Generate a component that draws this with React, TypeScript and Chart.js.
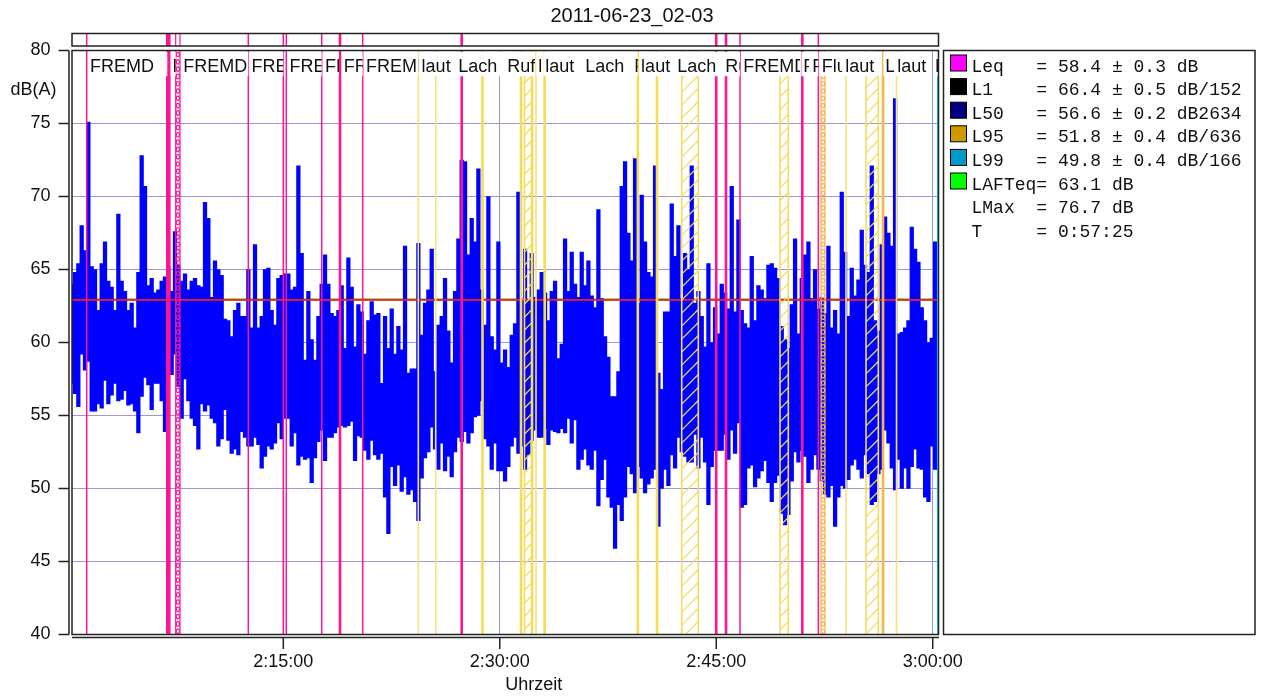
import React, { useEffect, useRef } from "react";
import { Chart, registerables } from "chart.js";

Chart.register(...registerables);

// ---------- texts ----------
const TITLE = "2011-06-23_02-03";
const Y_LABEL = "dB(A)";
const X_LABEL = "Uhrzeit";

// ---------- time axis (seconds after 2:00:00) ----------
const X_MIN = 21.5;
const X_MAX = 3624;
const SAMPLE_START = 13.2;
const SAMPLE_STEP = 13.86;

const xTickValues = [900, 1800, 2700, 3600];
const xTickLabels = ["2:15:00", "2:30:00", "2:45:00", "3:00:00"];
const Y_MIN = 40;
const Y_MAX = 80;
const Y_STEP = 5;

// ---------- level samples: max / min per interval, dB(A) ----------
const levelHigh = [
  64.0, 64.8, 65.4, 68.0, 66.3, 75.1, 65.2, 65.0, 62.2, 65.4,
  66.9, 64.2, 63.8, 62.2, 68.8, 64.2, 63.5, 62.2, 62.7, 61.0,
  64.8, 72.8, 70.7, 63.9, 64.4, 63.4, 63.6, 64.2, 64.5, 65.2,
  63.5, 67.6, 65.3, 64.2, 64.7, 63.6, 64.2, 64.4, 63.9, 63.8,
  69.6, 68.5, 63.1, 65.6, 65.0, 64.6, 61.6, 61.5, 60.4, 62.2,
  62.7, 61.8, 61.8, 65.0, 61.0, 66.7, 61.0, 61.8, 65.0, 65.1,
  62.2, 61.2, 64.4, 64.6, 64.7, 64.7,
  63.6, 63.8, 72.1, 66.1, 58.8, 63.5, 60.2, 58.8,
  61.8, 64.0, 66.0, 64.0, 62.0, 61.8, 62.2, 63.9, 59.6, 65.8,
  63.8, 59.7, 62.6, 62.1, 59.2, 61.5, 62.8, 61.9, 62.0, 57.2,
  61.8, 59.6, 62.3, 59.2, 61.1, 59.5, 66.6, 57.9, 58.2, 58.2,
  66.8, 60.5, 62.7, 63.6, 66.4, 58.0, 61.2, 61.8, 64.4, 60.8,
  58.6, 63.5, 67.1, 72.5, 72.4, 66.0, 68.5, 66.9, 71.9, 63.6,
  61.2, 70.0, 60.4, 59.5, 66.9, 58.6,
  59.5, 58.3, 60.5, 61.3, 70.3, 62.9, 66.4, 62.9, 66.1,
  63.1, 63.6, 64.8, 63.4, 61.5, 63.5, 64.2, 58.9, 59.9, 67.1,
  63.5, 66.2, 64.0, 63.1, 66.2, 63.9, 65.6, 63.2, 62.4, 69.1,
  63.0, 60.4, 59.0, 56.3, 56.3, 58.0, 70.7, 72.4, 67.5, 65.6,
  72.6, 62.7, 70.1, 66.9, 64.8, 64.5, 72.1, 57.9, 56.8, 62.1,
  62.1, 69.5, 65.9, 68.0, 63.0, 66.1, 65.0, 72.1, 62.7, 63.5,
  61.8, 59.7, 65.4, 60.0, 62.4, 60.6,
  64.0, 63.4, 62.3, 70.7, 62.1, 68.4, 62.2, 61.3,
  61.0, 65.9, 61.5, 63.9, 63.6, 63.0, 65.3, 65.4, 65.1, 64.4,
  61.1, 60.2, 59.6, 62.6, 67.1, 60.6, 64.4, 66.0, 66.9, 63.0,
  65.0, 62.3, 63.1, 62.0, 66.6, 61.0, 62.2, 60.6, 70.3, 66.2,
  61.8, 65.1, 63.2, 64.3, 67.7, 65.3, 64.8, 72.1, 61.5, 60.8,
  66.7, 68.6, 67.5, 66.6, 76.7, 60.6, 60.7, 61.0, 61.5, 67.9,
  66.4, 65.5, 62.4, 61.5, 60.0, 60.3, 66.9, 62.2,
];

const levelLow = [
  57.2, 56.5, 55.6, 59.2, 58.1, 58.7, 55.3, 55.3, 55.8, 55.5,
  57.4, 55.8, 56.4, 57.2, 56.0, 56.1, 56.7, 55.7, 55.8, 55.3,
  53.8, 56.3, 57.6, 57.1, 55.4, 57.2, 57.2, 56.0, 53.9, 58.1,
  57.8, 59.2, 57.0, 54.8, 57.5, 56.0, 54.8, 54.3, 52.7, 55.8,
  55.3, 55.7, 54.8, 54.5, 52.9, 53.4, 55.4, 53.3, 52.4, 52.7,
  52.3, 53.9, 53.5, 52.9, 52.9, 53.5, 53.0, 51.4, 52.2, 52.9,
  52.7, 53.1, 54.5, 53.4, 54.8, 54.8,
  52.9, 53.8, 51.6, 52.2, 52.0, 52.1, 50.4, 52.1,
  53.2, 54.0, 51.9, 53.5, 53.5, 53.8, 54.2, 54.3, 54.2, 54.3,
  54.6, 51.9, 53.6, 53.5, 52.6, 52.0, 53.3, 52.3, 52.0, 52.4,
  49.4, 46.9, 51.5, 50.2, 51.6, 49.8, 50.8, 49.6, 49.9, 49.1,
  47.8, 50.7, 52.1, 52.5, 54.2, 52.7, 51.3, 53.1, 51.2, 52.2,
  50.8, 52.5, 53.5, 53.2, 53.9, 53.1, 53.8, 54.9, 55.0, 56.0,
  53.4, 52.9, 51.3, 53.1, 51.2, 51.2,
  50.5, 51.5, 52.9, 53.5, 52.4, 52.9, 51.3, 52.3, 53.3,
  54.0, 53.5, 53.5, 54.1, 53.0, 54.0, 53.9, 53.8, 54.1, 53.8,
  54.8, 53.1, 54.7, 51.3, 52.0, 52.7, 51.6, 51.3, 52.6, 48.8,
  50.6, 52.0, 49.4, 48.7, 45.9, 48.9, 47.8, 49.4, 51.5, 51.0,
  49.7, 51.5, 50.7, 49.7, 50.3, 50.7, 51.3, 47.4, 50.0, 51.3,
  50.2, 52.3, 51.4, 53.5, 52.5, 52.2, 51.8, 51.8, 53.7, 51.4,
  53.5, 51.8, 48.9, 51.5, 52.6, 52.6,
  52.6, 53.7, 52.0, 54.0, 52.4, 54.5, 48.7, 48.9,
  51.4, 51.6, 50.1, 50.7, 51.2, 51.9, 50.4, 49.1, 50.4, 50.9,
  48.3, 47.5, 48.2, 50.5, 52.5, 51.8, 52.6, 52.2, 50.4, 51.3,
  52.3, 51.3, 50.5, 49.6, 49.4, 50.2, 47.4, 49.4, 50.2, 50.0,
  50.6, 51.6, 52.0, 51.3, 50.7, 52.3, 51.0, 48.9, 49.1, 51.0,
  51.3, 54.0, 53.1, 51.4, 49.9, 52.0, 50.0, 51.4, 50.0, 51.5,
  52.7, 51.4, 51.3, 49.4, 49.1, 52.9, 51.3, 51.3,
];

// reference levels (horizontal lines)
const leqLineLevel = 62.95;
const lafteqLineLevel = 62.95;

// ---------- event markers (seconds after 2:00:00) ----------
const markerTimes = [
  82.6, 754.5, 900, 912.5, 1059.7, 1230.1, 2798.8, 3124.4,
  417.7, 426, 1135.7, 1641.7, 2699.9, 2740.6, 3057.8,
  1461.3, 1533.6, 1950.7, 3239.5, 3449.5,
  1728.2, 1888.3, 1934, 1986.8, 2373.9, 2453.7,
  3393.4,
  3622,
];
const markerKinds = [
  "m", "m", "m", "m", "m", "m", "m", "m",
  "M", "M", "M", "M", "M", "M", "M",
  "y", "y", "y", "y", "y",
  "Y", "Y", "Y", "Y", "Y", "Y",
  "O",
  "c",
];

const hatchStarts = [1902.8, 2556.4, 2965.1, 3322.7];
const hatchEnds = [1934, 2625.4, 2999.6, 3373.8];

const chainStarts = [452.6, 3135.6];
const chainEnds = [470.5, 3152.2];
const chainKinds = ["m", "O"];

// event labels: start / end of label field, text
const labelStarts = [
  82.6, 426, 470.5, 754.5, 912.5, 1059.7, 1137.8, 1230.1, 1461.3, 1613.9,
  1817.6, 1946.5, 1975.6, 2141.9, 2345.6, 2373.9, 2524.4, 2724, 2798.8, 3048.3,
  3085.6, 3124.4, 3222.9, 3389.2, 3439.1, 3597.1,
];
const labelEnds = [
  417.7, 452.6, 754.5, 900, 1059.7, 1131.6, 1230.1, 1461.3, 1613.9, 1817.6,
  1946.5, 1975.6, 2141.9, 2345.6, 2373.9, 2524.4, 2724, 2798.8, 3048.3, 3085.6,
  3124.4, 3222.9, 3389.2, 3439.1, 3597.1, 3624,
];
const labelTexts = [
  "FREMD", "FREMD", "FREMD", "FREMD", "FREMD", "FREMD", "FREMD", "FREMD", "laut", "Lach",
  "Ruf", "laut", "laut", "Lach", "FREMD", "laut", "Lach", "Ruf", "FREMD", "FREMD",
  "FREMD", "Flur", "laut", "Lach", "laut", "laut",
];

// ---------- legend ----------
const legendColors = ["#ff00ff", "#000000", "#000080", "#cc9900", "#0099cc", "#00ff00", "", ""];
const legendLines = [
  "Leq   = 58.4 \u00b1 0.3 dB",
  "L1    = 66.4 \u00b1 0.5 dB/152",
  "L50   = 56.6 \u00b1 0.2 dB2634",
  "L95   = 51.8 \u00b1 0.4 dB/636",
  "L99   = 49.8 \u00b1 0.4 dB/166",
  "LAFTeq= 63.1 dB",
  "LMax  = 76.7 dB",
  "T     = 0:57:25",
];

// ---------- styles ----------
const SANS = '"Liberation Sans", Arial, sans-serif';
const MONO = '"Liberation Mono", "DejaVu Sans Mono", monospace';
const GRID = "#9b96d4";
const AXIS = "#222222";
const KIND_STYLE: Record<string, { color: string; width: number; strip: boolean }> = {
  m: { color: "#ff1493", width: 1.5, strip: true },
  M: { color: "#ff1493", width: 2.6, strip: true },
  y: { color: "#f6e27a", width: 1.6, strip: false },
  Y: { color: "#f4dc55", width: 2.6, strip: false },
  O: { color: "#f6b44c", width: 2.6, strip: false },
  c: { color: "#00e5ff", width: 2, strip: false },
};
const HATCH_COLOR = "#f4dc60";
const STRIP_TOP = 33.5;
const STRIP_BOTTOM = 46;
const LABEL_TOP = 51.5;
const LABEL_BOTTOM = 76.5;

function vline(ctx: CanvasRenderingContext2D, x: number, y0: number, y1: number) {
  ctx.beginPath();
  ctx.moveTo(x, y0);
  ctx.lineTo(x, y1);
  ctx.stroke();
}
function hline(ctx: CanvasRenderingContext2D, x0: number, x1: number, y: number) {
  ctx.beginPath();
  ctx.moveTo(x0, y);
  ctx.lineTo(x1, y);
  ctx.stroke();
}

const overlayPlugin = {
  id: "overlay",
  beforeDatasetsDraw(chart: any) {
    const { ctx, chartArea: a, scales } = chart;
    const yg = scales.y.getPixelForValue(lafteqLineLevel);
    ctx.save();
    ctx.strokeStyle = "#00d000";
    ctx.lineWidth = 2;
    hline(ctx, a.left, a.right, yg);
    ctx.restore();
  },
  afterDatasetsDraw(chart: any) {
    const { ctx, chartArea: a, scales } = chart;
    const xs = scales.x;
    const ys = scales.y;
    const px = (t: number) => xs.getPixelForValue(t);

    ctx.save();
    ctx.beginPath();
    ctx.rect(a.left, a.top, a.right - a.left, a.bottom - a.top);
    ctx.clip();

    // red Leq line over the data
    ctx.strokeStyle = "#ff1a1a";
    ctx.lineWidth = 1.8;
    hline(ctx, a.left, a.right, ys.getPixelForValue(leqLineLevel) + 0.4);

    // hatched spans
    hatchStarts.forEach((t0, i) => {
      const x0 = px(t0);
      const x1 = px(hatchEnds[i]);
      const w = x1 - x0;
      ctx.save();
      ctx.beginPath();
      ctx.rect(x0, a.top, w, a.bottom - a.top);
      ctx.clip();
      ctx.strokeStyle = HATCH_COLOR;
      ctx.lineWidth = 1.2;
      for (let yy = a.bottom + w; yy > a.top - 13; yy -= 13) {
        ctx.beginPath();
        ctx.moveTo(x0, yy);
        ctx.lineTo(x1, yy - w);
        ctx.stroke();
      }
      ctx.restore();
      ctx.strokeStyle = HATCH_COLOR;
      ctx.lineWidth = 1.6;
      vline(ctx, x0, a.top, a.bottom);
      vline(ctx, x1, a.top, a.bottom);
    });

    // single markers
    markerTimes.forEach((t, i) => {
      const st = KIND_STYLE[markerKinds[i]];
      ctx.strokeStyle = st.color;
      ctx.lineWidth = st.width;
      vline(ctx, px(t), a.top, a.bottom);
    });

    // chain spans
    chainStarts.forEach((t0, i) => {
      const st = KIND_STYLE[chainKinds[i]];
      const x0 = px(t0);
      const x1 = px(chainEnds[i]);
      ctx.strokeStyle = st.color;
      ctx.lineWidth = 1.2;
      vline(ctx, x0, a.top, a.bottom);
      vline(ctx, x1, a.top, a.bottom);
      const cx = (x0 + x1) / 2;
      for (let yy = a.top + 4; yy < a.bottom; yy += 7.3) {
        ctx.beginPath();
        ctx.ellipse(cx, yy, 1.6, 2.2, 0, 0, Math.PI * 2);
        ctx.stroke();
      }
    });

    // label row
    ctx.font = `18px ${SANS}`;
    ctx.textAlign = "left";
    ctx.textBaseline = "alphabetic";
    labelStarts.forEach((t0, i) => {
      const x0 = px(t0);
      const x1 = Math.min(px(labelEnds[i]), a.right);
      ctx.save();
      ctx.beginPath();
      ctx.rect(x0 + 1.2, LABEL_TOP, x1 - x0 - 1.2, LABEL_BOTTOM - LABEL_TOP);
      ctx.clip();
      ctx.fillStyle = "#ffffff";
      ctx.fillRect(x0 + 1.2, LABEL_TOP, x1 - x0, LABEL_BOTTOM - LABEL_TOP);
      ctx.fillStyle = "#111111";
      ctx.fillText(labelTexts[i], x0 + 3.3, 72);
      ctx.restore();
    });
    ctx.restore();

    // top strip
    ctx.save();
    ctx.beginPath();
    ctx.rect(a.left, STRIP_TOP, a.right - a.left, STRIP_BOTTOM - STRIP_TOP);
    ctx.clip();
    markerTimes.forEach((t, i) => {
      const st = KIND_STYLE[markerKinds[i]];
      if (!st.strip) return;
      ctx.strokeStyle = st.color;
      ctx.lineWidth = st.width;
      vline(ctx, px(t), STRIP_TOP, STRIP_BOTTOM);
    });
    chainStarts.forEach((t0, i) => {
      const st = KIND_STYLE[chainKinds[i]];
      if (!st.strip) return;
      ctx.strokeStyle = st.color;
      ctx.lineWidth = 1.2;
      vline(ctx, px(t0), STRIP_TOP, STRIP_BOTTOM);
      vline(ctx, px(chainEnds[i]), STRIP_TOP, STRIP_BOTTOM);
    });
    ctx.restore();

    ctx.save();
    ctx.strokeStyle = AXIS;
    ctx.lineWidth = 1.5;
    ctx.strokeRect(a.left, STRIP_TOP, a.right - a.left, STRIP_BOTTOM - STRIP_TOP);
    // plot frame
    ctx.strokeRect(a.left, a.top, a.right - a.left, a.bottom - a.top);
    // detached axis lines
    vline(ctx, a.left - 3, a.top, a.bottom);
    hline(ctx, a.left, a.right + 0.5, a.bottom + 3);
    // tick marks
    for (let v = Y_MIN; v <= Y_MAX; v += Y_STEP) {
      const yy = ys.getPixelForValue(v);
      hline(ctx, a.left - 13.5, a.left - 3, yy);
    }
    xTickValues.forEach((v) => {
      const xx = px(v);
      vline(ctx, xx, a.bottom + 3, a.bottom + 14.5);
    });

    // texts
    ctx.fillStyle = "#111111";
    ctx.font = `20px ${SANS}`;
    ctx.textAlign = "center";
    ctx.textBaseline = "alphabetic";
    ctx.fillText(TITLE, 632, 22);
    ctx.font = `18px ${SANS}`;
    ctx.textAlign = "right";
    ctx.fillText(Y_LABEL, 56.5, 95);
    ctx.textAlign = "left";
    ctx.fillText(X_LABEL, (a.left + a.right) / 2, 690);

    // legend
    ctx.lineWidth = 1.5;
    ctx.strokeRect(943.5, a.top, 311.5, a.bottom - a.top);
    ctx.font = `18px ${MONO}`;
    legendLines.forEach((line, i) => {
      const top = 55 + 23.6 * i;
      if (legendColors[i]) {
        ctx.fillStyle = legendColors[i];
        ctx.fillRect(950.5, top, 16, 16);
        ctx.strokeStyle = "#000000";
        ctx.lineWidth = 1;
        ctx.strokeRect(950.5, top, 16, 16);
      }
      ctx.fillStyle = "#111111";
      ctx.fillText(line, 971.5, 71.5 + 23.6 * i);
    });
    ctx.restore();
  },
};

export default function App() {
  const canvasRef = useRef<HTMLCanvasElement | null>(null);

  useEffect(() => {
    const canvas = canvasRef.current;
    if (!canvas) return;
    const data = levelHigh.map((h, i) => ({
      x: SAMPLE_START + SAMPLE_STEP * (i + 0.5),
      y: [levelLow[i], h],
    }));
    const yTicks: number[] = [];
    for (let v = Y_MIN; v <= Y_MAX; v += Y_STEP) yTicks.push(v);

    const chart = new Chart(canvas, {
      type: "bar",
      data: {
        datasets: [
          {
            data: data as any,
            backgroundColor: "#0000ff",
            borderWidth: 0,
            barThickness: 3.6,
            grouped: false,
          } as any,
        ],
      },
      options: {
        responsive: false,
        animation: false,
        devicePixelRatio: 1,
        events: [],
        layout: { padding: { left: 0, top: 50.5, right: 322.5, bottom: 0 } },
        plugins: {
          legend: { display: false },
          tooltip: { enabled: false },
          title: { display: false },
        },
        scales: {
          x: {
            type: "linear",
            min: X_MIN,
            max: X_MAX,
            offset: false,
            afterBuildTicks: (scale: any) => {
              scale.ticks = xTickValues.map((v) => ({ value: v }));
            },
            afterFit: (scale: any) => {
              scale.height = 63.5;
            },
            grid: { color: GRID, lineWidth: 1, drawTicks: false, offset: false },
            border: { display: false },
            ticks: {
              autoSkip: false,
              maxRotation: 0,
              padding: 17,
              color: "#111111",
              font: { family: SANS, size: 18 },
              callback: (v: any) => {
                const idx = xTickValues.indexOf(Number(v));
                return idx >= 0 ? xTickLabels[idx] : "";
              },
            },
          },
          y: {
            type: "linear",
            min: Y_MIN,
            max: Y_MAX,
            afterBuildTicks: (scale: any) => {
              scale.ticks = yTicks.map((v) => ({ value: v }));
            },
            afterFit: (scale: any) => {
              scale.width = 72;
            },
            grid: { color: GRID, lineWidth: 1, drawTicks: false },
            border: { display: false },
            ticks: {
              padding: 21.5,
              color: "#111111",
              font: { family: SANS, size: 18 },
              callback: (v: any) => String(v),
            },
          },
        },
      },
      plugins: [overlayPlugin],
    } as any);

    return () => chart.destroy();
  }, []);

  return (
    <div
      style={{
        position: "fixed",
        left: 0,
        top: 0,
        width: 1261,
        height: 698,
        background: "#ffffff",
      }}
    >
      <canvas
        ref={canvasRef}
        width={1261}
        height={698}
        style={{ display: "block", width: 1261, height: 698 }}
      />
    </div>
  );
}
